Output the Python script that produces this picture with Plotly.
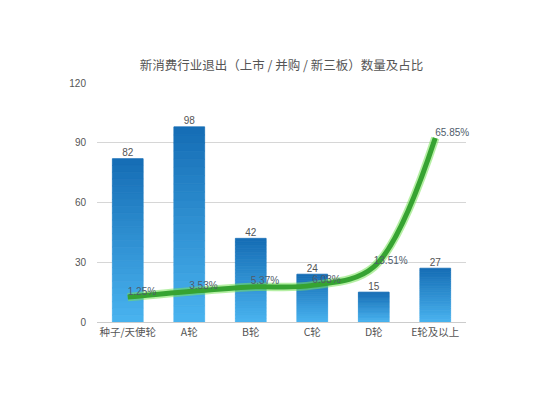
import plotly.graph_objects as go

categories = ["种子/天使轮", "A轮", "B轮", "C轮", "D轮", "E轮及以上"]
exit_counts = [82, 98, 42, 24, 15, 27]
exit_share = [1.25, 3.53, 5.37, 6.03, 13.51, 65.85]
share_labels = ["1.25%", "3.53%", "5.37%", "6.03%", "13.51%", "65.85%"]
y_ticks = [0, 30, 60, 90, 120]

FONT = "Liberation Sans, Noto Sans CJK SC, sans-serif"

fig = go.Figure()

# gradient bars: stacked slices of each bar, dark at top, light at bottom
N = 24
top_rgb = (22, 110, 182)
bot_rgb = (72, 178, 238)
for k in range(N):
    t = k / (N - 1)
    c = tuple(round(bot_rgb[i] + (top_rgb[i] - bot_rgb[i]) * t) for i in range(3))
    col = "rgb(%d,%d,%d)" % c
    fig.add_trace(go.Bar(
        x=categories,
        y=[v / N for v in exit_counts],
        base=[v * k / N for v in exit_counts],
        marker=dict(color=col, line=dict(width=0.8, color=col)),
        showlegend=False, hoverinfo="skip",
        yaxis="y",
    ))

# value labels above bars
fig.add_trace(go.Scatter(
    x=categories, y=exit_counts, mode="text",
    text=[str(v) for v in exit_counts], textposition="top center",
    textfont=dict(size=10, color="#555555", family=FONT),
    showlegend=False, hoverinfo="skip", yaxis="y", cliponaxis=False,
))

# line glow
fig.add_trace(go.Scatter(
    x=categories, y=exit_share, mode="lines",
    line=dict(color="rgba(120,225,90,0.55)", width=8.5, shape="spline", smoothing=1.0),
    showlegend=False, hoverinfo="skip", yaxis="y2", cliponaxis=False,
))
fig.add_trace(go.Scatter(
    x=categories, y=exit_share, mode="lines+text",
    line=dict(color="#36a332", width=5, shape="spline", smoothing=1.0),
    text=share_labels, textposition="top right",
    textfont=dict(size=10, color="#4f5c6b", family=FONT),
    showlegend=False, yaxis="y2", cliponaxis=False,
))

fig.update_layout(
    width=547, height=397,
    paper_bgcolor="white", plot_bgcolor="white",
    margin=dict(l=89, r=89, t=75, b=83),
    barmode="overlay", bargap=0.5,
    title=dict(text="新消费行业退出（上市 / 并购 / 新三板）数量及占比",
               x=0.5, xref="paper", y=0.854, yref="container",
               xanchor="center", yanchor="middle",
               font=dict(size=12.5, color="#555555", family="Noto Sans CJK SC, sans-serif")),
    xaxis=dict(showgrid=False, showline=True, linecolor="#cccccc", linewidth=1,
               ticks="", tickfont=dict(size=10.5, color="#555555", family="Noto Sans CJK SC, sans-serif"),
               fixedrange=True),
    yaxis=dict(range=[0, 120], tickvals=y_ticks, showgrid=True, gridcolor="#d6d6d6",
               zeroline=False, showline=False, ticks="", ticklabelstandoff=10,
               tickfont=dict(size=10, color="#555555", family=FONT)),
    yaxis2=dict(overlaying="y", side="right", range=[-8.85, 88.2], visible=False),
)

fig.write_html("out.html")
